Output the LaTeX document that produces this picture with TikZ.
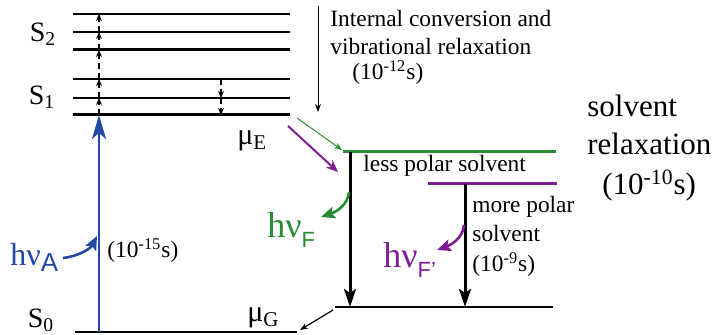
\documentclass[tikz,border=0pt]{standalone}
\usepackage{fontspec}
\setmainfont{Liberation Serif}
\setsansfont{Liberation Sans}
\usetikzlibrary{arrows.meta}
\definecolor{absblue}{RGB}{35,72,165}
\definecolor{flgreen}{RGB}{40,140,50}
\definecolor{flpurple}{RGB}{125,30,150}
\newcommand\lowsf[3]{\raisebox{-#1}{\sffamily\fontsize{#2}{#2}\selectfont #3}}
\tikzset{
  lvl/.style={line width=1pt},
  lvlT/.style={line width=1.5pt},
  vib/.style={densely dashed,line width=0.6pt,-{Stealth[length=3.5pt,width=3pt]}},
  ems/.style={line width=1.5pt,-{Stealth[length=9pt,width=6pt,inset=2pt]}},
  thn/.style={line width=0.5pt,-{Stealth[length=4pt,width=3pt]}},
  crv/.style={line width=1.3pt,-{Stealth[length=7pt,width=6pt,inset=1.5pt]}},
  txt/.style={inner sep=0pt,anchor=base west,font=\fontsize{11.7}{14}\selectfont},
  big/.style={inner sep=0pt,anchor=base west,font=\fontsize{15.5}{20}\selectfont},
}

\begin{document}
\begin{tikzpicture}[x=0.5pt,y=-0.5pt,>=Stealth]
  \useasboundingbox (0,0) rectangle (713,335);
  % S2 and S1 levels
  \coordinate (v5) at (99,14);  \coordinate (v4) at (99,32);  \coordinate (v3) at (99,50);
  \coordinate (v2) at (99,79);  \coordinate (v1) at (99,98);  \coordinate (v0) at (99,115);
  \draw[lvl]  (73,14) -- (290,14);
  \draw[lvl]  (73,32) -- (290,32);
  \draw[lvlT] (73,50) -- (290,50);
  \draw[lvl]  (73,79) -- (290,79);
  \draw[lvl]  (73,98) -- (290,98);
  \draw[lvlT] (73,115) -- (290,115);
  \draw[lvl]  (75,332) -- (297,332);
  \coordinate (g0) at (99,332);
  \node[font=\fontsize{14}{14}\selectfont,inner sep=0pt] (s2) at (43,34) {S\textsubscript{2}};
  \node[font=\fontsize{14}{14}\selectfont,inner sep=0pt] (s1) at (42,97) {S\textsubscript{1}};
  \node[font=\fontsize{14}{14}\selectfont,inner sep=0pt] (s0) at (41,320) {S\textsubscript{0}};
  % vibrational ladder
  \draw[vib] (v0) -- (v1); \draw[vib] (v1) -- (v2); \draw[vib] (v2) -- (v3);
  \draw[vib] (v3) -- (v4); \draw[vib] (v4) -- (v5);
  \coordinate (w2) at (221,79); \coordinate (w1) at (221,98); \coordinate (w0) at (221,115);
  \draw[vib] (w2) -- (w1); \draw[vib] (w1) -- (w0);
  % absorption
  \draw[absblue,line width=1.1pt,-{Stealth[length=12pt,width=7pt,inset=3pt]}] (g0) -- (v0);
  \node[absblue,inner sep=0pt,anchor=base west,font=\fontsize{16}{16}\selectfont] (hA) at (10,266)
    {hν\lowsf{3pt}{13}{A}};
  \coordinate (hA1) at (63,258); \coordinate (hA2) at (97,236);
  \draw[absblue,crv] (hA1) .. controls (80,256) and (91,248) .. (hA2);
  \node[txt] (tA) at (107,258) {(10\textsuperscript{-15}s)};
  % internal conversion
  \coordinate (ic0) at (318,6); \coordinate (ic1) at (318,112);
  \draw[thn] (ic0) -- (ic1);
  \node[txt] (icA) at (330,27) {Internal conversion and};
  \node[txt] (icB) at (330,55) {vibrational relaxation};
  \node[txt] (icC) at (352,80) {(10\textsuperscript{-12}s)};
  % relaxed excited states
  \node[inner sep=0pt,anchor=base west,font=\fontsize{15}{15}\selectfont] (muE) at (237,145) {μ\textsubscript{E}};
  \coordinate (eL) at (343,152); \coordinate (eR) at (556,152);
  \coordinate (pL) at (428,184); \coordinate (pR) at (557,184);
  \draw[flgreen,lvlT] (eL) -- (eR);
  \draw[flpurple,lvlT] (pL) -- (pR);
  \coordinate (gA) at (297,118); \coordinate (gB) at (342,150);
  \coordinate (pA) at (288,126); \coordinate (pB) at (338,172);
  \draw[flgreen,thn] (gA) -- (gB);
  \draw[flpurple,line width=1pt,-{Stealth[length=6pt,width=5pt]}] (pA) -- (pB);
  \node[txt] (lp) at (363,172) {less polar solvent};
  \node[txt] (mpA) at (472,213) {more polar};
  \node[txt] (mpB) at (472,242) {solvent};
  \node[txt] (mpC) at (472,272) {(10\textsuperscript{-9}s)};
  % solvent relaxation
  \node[big] (srA) at (587,117) {solvent};
  \node[big] (srB) at (587,155) {relaxation};
  \node[big] (srC) at (602,195) {(10\textsuperscript{-10}s)};
  % ground state
  \coordinate (rL) at (335,307); \coordinate (rR) at (553,307);
  \draw[lvl] (rL) -- (rR);
  \draw[ems] (350,152) -- (350,307);
  \draw[ems] (465,184) -- (465,307);
  \node[inner sep=0pt,anchor=base west,font=\fontsize{15}{15}\selectfont] (muG) at (247,322) {μ\textsubscript{G}};
  \coordinate (mA) at (333,310); \coordinate (mB) at (300,330);
  \draw[thn,line width=0.6pt] (mA) -- (mB);
  % fluorescence
  \coordinate (fA) at (349,192); \coordinate (fB) at (321,217);
  \draw[flgreen,crv] (fA) .. controls (348,205) and (336,212) .. (fB);
  \node[flgreen,inner sep=0pt,anchor=base west,font=\fontsize{18}{18}\selectfont] (hF) at (267,238)
    {hν\lowsf{5pt}{11}{F}};
  \coordinate (qA) at (464,225); \coordinate (qB) at (437,250);
  \draw[flpurple,crv] (qA) .. controls (463,238) and (451,245) .. (qB);
  \node[flpurple,inner sep=0pt,anchor=base west,font=\fontsize{18}{18}\selectfont] (hP) at (383,268)
    {hν\lowsf{5pt}{11}{F'}};
\end{tikzpicture}
\end{document}
